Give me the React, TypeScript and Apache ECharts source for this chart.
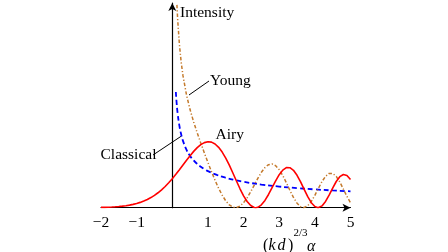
import { useEffect, useRef } from "react";
import * as echarts from "echarts";

// Airy: Ai(-x)^2
const airyX = [-2, -1.9, -1.8, -1.7, -1.6, -1.5, -1.4, -1.3, -1.2, -1.1, -1, -0.9, -0.8, -0.7, -0.6, -0.5, -0.4, -0.3, -0.2, -0.1, 0,
  0.1, 0.2, 0.3, 0.4, 0.5, 0.6, 0.7, 0.8, 0.9, 1, 1.1, 1.2, 1.3, 1.4, 1.5, 1.6, 1.7, 1.8, 1.9, 2, 2.1, 2.2, 2.3, 2.34,
  2.4, 2.5, 2.6, 2.7, 2.8, 2.9, 3, 3.1, 3.2, 3.3, 3.4, 3.5, 3.6, 3.7, 3.8, 3.9, 4, 4.09,
  4.1, 4.2, 4.3, 4.4, 4.5, 4.6, 4.7, 4.8, 4.9, 5];
const airyY = [0.0012, 0.0016, 0.0022, 0.003, 0.0039, 0.0051, 0.0067, 0.0087, 0.0113, 0.0144, 0.0183, 0.0231, 0.0289, 0.0358, 0.044, 0.0537, 0.0649, 0.0777, 0.0922, 0.1084, 0.1261,
  0.1451, 0.1651, 0.1857, 0.2063, 0.2263, 0.2449, 0.2611, 0.2741, 0.283, 0.2868, 0.285, 0.2769, 0.2624, 0.2418, 0.2155, 0.1848, 0.151, 0.1161, 0.0823, 0.0517, 0.0271, 0.0094, 0.0008, 0,
  0.0018, 0.0124, 0.0316, 0.0574, 0.0868, 0.1167, 0.1435, 0.1634, 0.1742, 0.174, 0.1626, 0.141, 0.1121, 0.0797, 0.0479, 0.0218, 0.0049, 0,
  0.0001, 0.0079, 0.0272, 0.0546, 0.0853, 0.1139, 0.1349, 0.1444, 0.1403, 0.123];

// Young: brown dash-dot curve
const youngX = [0.13, 0.15, 0.2, 0.25, 0.3, 0.4, 0.5, 0.6, 0.7, 0.8, 0.9, 1, 1.1, 1.2, 1.3, 1.4, 1.5, 1.6, 1.7, 1.771, 1.8, 1.9,
  2, 2.1, 2.2, 2.3, 2.4, 2.5, 2.6, 2.7, 2.8, 2.9, 3, 3.1, 3.2, 3.3, 3.4, 3.5, 3.6, 3.683,
  3.7, 3.8, 3.9, 4, 4.1, 4.2, 4.3, 4.4, 4.5, 4.6, 4.7, 4.8, 4.9, 5];
const youngY = [0.882, 0.8206, 0.7092, 0.6322, 0.5742, 0.4891, 0.4256, 0.3727, 0.3253, 0.2809, 0.2381, 0.1966, 0.1567, 0.119, 0.0845, 0.0544, 0.0299, 0.0122, 0.0021, 0, 0.0004, 0.007,
  0.0216, 0.0429, 0.0693, 0.0985, 0.1277, 0.154, 0.1746, 0.1872, 0.1902, 0.1827, 0.1653, 0.1397, 0.1085, 0.0755, 0.0445, 0.0197, 0.0042, 0,
  0.0002, 0.0082, 0.0271, 0.0539, 0.0844, 0.1136, 0.1366, 0.1492, 0.1491, 0.1359, 0.1119, 0.081, 0.0489, 0.0216];

// Classical: blue dashed curve
const classicalX = [0.1, 0.12, 0.15, 0.2, 0.25, 0.3, 0.4, 0.5, 0.6, 0.7, 0.8, 0.9, 1, 1.25, 1.5, 1.75, 2, 2.5, 3, 3.5, 4, 4.5, 5];
const classicalY = [0.5033, 0.4594, 0.4109, 0.3559, 0.3183, 0.2906, 0.2516, 0.2251, 0.2055, 0.1902, 0.1779, 0.1678, 0.1592, 0.1424, 0.13, 0.1203, 0.1125, 0.1007, 0.0919, 0.0851, 0.0796, 0.075, 0.0712];

const xMin = -2;
const xMax = 5;
const yMax = 0.89;

const zip = (xs: number[], ys: number[]) => xs.map((x, i) => [x, ys[i]]);

const SERIF = '"Liberation Serif", "DejaVu Serif", serif';

function txt(text: string, x: number, y: number, extra: any = {}) {
  return {
    type: "text",
    x,
    y,
    style: {
      text,
      fill: "#000",
      fontFamily: SERIF,
      fontSize: 15.5,
      verticalAlign: "middle",
      align: "left",
      ...extra,
    },
  };
}

function seg(x1: number, y1: number, x2: number, y2: number) {
  return {
    type: "line",
    shape: { x1, y1, x2, y2 },
    style: { stroke: "#000", lineWidth: 1 },
  };
}

export default function App() {
  const ref = useRef<HTMLDivElement>(null);
  useEffect(() => {
    const chart = echarts.init(ref.current!, null, { renderer: "svg" });
    const axisLineStyle = { color: "#000", width: 1.2 };
    chart.setOption({
      animation: false,
      grid: { left: 101, right: 97.5, top: 3, bottom: 44.3 },
      xAxis: {
        type: "value",
        min: xMin,
        max: xMax,
        interval: 1,
        axisLine: { show: true, onZero: true, symbol: ["none", "arrow"], symbolSize: [6, 8], lineStyle: axisLineStyle },
        axisTick: { show: false },
        splitLine: { show: false },
        axisLabel: {
          color: "#000",
          fontFamily: SERIF,
          fontSize: 15.5,
          margin: 6,
          formatter: (v: number) => (v === 0 ? "" : String(v).replace("-", "\u2212")),
        },
      },
      yAxis: {
        type: "value",
        min: 0,
        max: yMax,
        axisLine: { show: true, onZero: true, symbol: ["none", "arrow"], symbolSize: [6, 8], lineStyle: axisLineStyle },
        axisTick: { show: false },
        splitLine: { show: false },
        axisLabel: { show: false },
      },
      series: [
        {
          name: "Classical",
          type: "line",
          data: zip(classicalX, classicalY),
          smooth: true,
          showSymbol: false,
          symbol: "none",
          lineStyle: { color: "#0000ff", width: 1.8, type: [5, 3] },
        },
        {
          name: "Young",
          type: "line",
          data: zip(youngX, youngY),
          showSymbol: false,
          symbol: "none",
          lineStyle: { color: "#c47a2c", width: 1.5, type: [3.5, 2, 1.2, 2] },
        },
        {
          name: "Airy",
          type: "line",
          data: zip(airyX, airyY),
          showSymbol: false,
          symbol: "none",
          lineStyle: { color: "#ff0000", width: 1.6 },
        },
      ],
      graphic: [
        txt("Intensity", 180, 11.5),
        txt("Young", 210, 79),
        seg(189, 95, 209, 81),
        txt("Airy", 215.5, 133.7),
        txt("Classical", 100.5, 153.8),
        seg(153, 155, 181.5, 136),
        txt("(", 263, 244.5, { fontSize: 16 }),
        txt("k", 268.5, 244.5, { fontStyle: "italic", fontSize: 16 }),
        txt("d", 277.5, 244.5, { fontStyle: "italic", fontSize: 16 }),
        txt(")", 288, 244.5, { fontSize: 16 }),
        txt("2/3", 293.5, 237, { fontSize: 11, verticalAlign: "bottom" }),
        txt("\u03b1", 307, 245, { fontStyle: "italic", fontSize: 16 }),
      ],
    });
    return () => chart.dispose();
  }, []);
  return <div ref={ref} style={{ position: "fixed", left: 0, top: 0, width: 448, height: 252 }} />;
}
